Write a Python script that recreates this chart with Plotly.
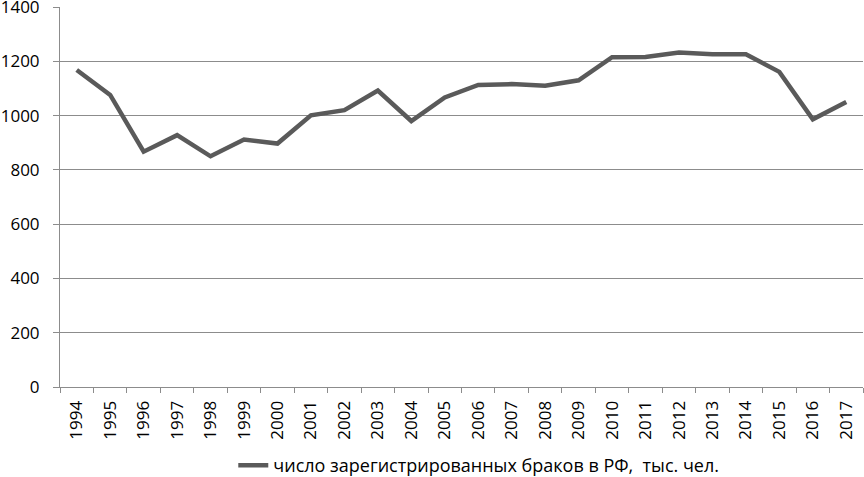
import plotly.graph_objects as go

years = [str(y) for y in range(1994, 2018)]
marriages = [1168, 1076, 867, 928, 850, 912, 897, 1001, 1020, 1092, 980, 1067,
             1113, 1116, 1110, 1130, 1215, 1216, 1232, 1226, 1226, 1161, 986, 1050]
series_name = "число зарегистрированных браков в РФ,  тыс. чел."

fig = go.Figure()
fig.add_trace(go.Scatter(
    x=years, y=marriages, mode="lines", name=series_name,
    line=dict(color="#5a5a5a", width=4.5),
))

font = "'Open Sans', sans-serif"
fig.update_layout(
    width=864, height=477,
    margin=dict(l=60, r=1, t=7, b=90, autoexpand=False),
    paper_bgcolor="white", plot_bgcolor="white",
    font=dict(family=font, size=17, color="black"),
    showlegend=True,
    legend=dict(orientation="h", xref="container", yref="container",
                x=0.27, xanchor="left", y=0.024, yanchor="middle",
                font=dict(size=18), bgcolor="rgba(0,0,0,0)"),
    xaxis=dict(type="category", range=[-0.5, len(years) - 0.5], tickangle=-90,
               ticks="outside", ticklen=5,
               tickcolor="#8c8c8c", tickson="boundaries", showline=True,
               linecolor="#8c8c8c", linewidth=1, showgrid=False,
               automargin=False, ticklabelstandoff=6, ticklabeloverflow="allow",
               tickfont=dict(size=17)),
    yaxis=dict(range=[0, 1400.01], tickvals=[0, 200, 400, 600, 800, 1000, 1200, 1400],
               ticks="outside", ticklen=6,
               tickcolor="#8c8c8c", showline=True, linecolor="#8c8c8c",
               linewidth=1, showgrid=True, gridcolor="#8c8c8c", gridwidth=1,
               zeroline=False, automargin=False, ticklabelstandoff=10,
               ticklabeloverflow="allow", tickfont=dict(size=17)),
)
fig.write_html("out.html", config={"displayModeBar": False},
               post_script="document.body.style.margin='0';document.body.style.overflow='hidden';")
